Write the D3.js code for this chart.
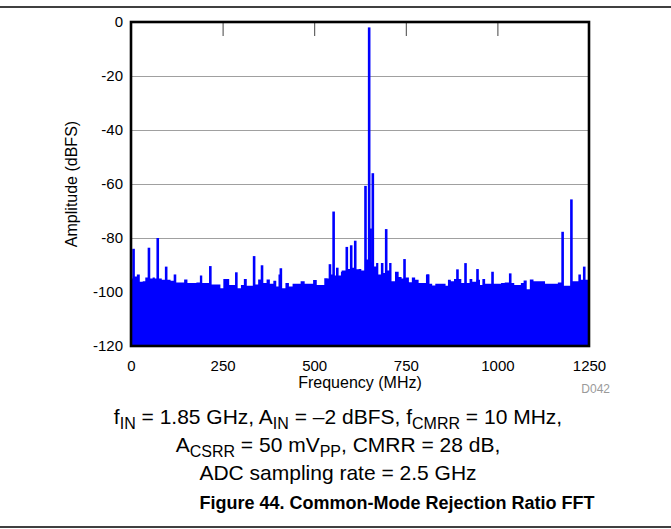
<!DOCTYPE html>
<html>
<head>
<meta charset="utf-8">
<script src="https://cdn.jsdelivr.net/npm/d3@7"></script>
<style>
  html, body { margin: 0; padding: 0; background: #fff; }
  svg { display: block; font-family: "Liberation Sans", Arial, sans-serif; }
</style>
</head>
<body>
<svg id="chart" width="671" height="529"></svg>
<script>
// ---- data ----
const xTicks = [0, 250, 500, 750, 1000, 1250];
const yTicks = [0, -20, -40, -60, -80, -100, -120];
const gridValues = [-20, -40, -60, -80, -100];
const topTickValues = [250, 500, 750, 1000];

// noise-floor envelope (MHz, dBFS)
const noiseFreq = [0,5,12,20,28,36,42,56,62,68,80,88,104,112,128,140,150,158,172,185,191,198,208,225,240,248,256,264,272,280,296,304,312,320,328,344,350,366,374,384,393,400,405,417,426,436,446,458,468,480,492,502,512,522,533,540,548,558,568,582,595,606,618,625,632,645,656,666,672,678,686,692,702,707,715,726,735,742,755,762,771,780,790,800,810,818,826,835,845,855,862,868,878,885,898,905,920,928,935,950,955,963,970,980,995,1005,1015,1025,1042,1050,1060,1068,1075,1085,1092,1105,1115,1125,1135,1145,1160,1170,1185,1195,1210,1218,1224,1232,1242,1250];
const noiseLevel = [-94,-95,-94.3,-93.5,-96.2,-96,-94.6,-95,-94.6,-95,-95,-95.5,-95.5,-95.8,-96.5,-96.5,-95.4,-96.7,-96.7,-96.5,-93.9,-96.7,-96.7,-97.2,-97.2,-98.6,-95.2,-95.2,-97.4,-97.4,-98.6,-97.4,-95.2,-97.7,-97.7,-97.2,-95.4,-96.7,-95.4,-96.9,-95.8,-98,-93.5,-98.6,-96.7,-98,-96.9,-96.9,-96,-96.9,-96.9,-95.6,-97.4,-97.4,-94.9,-95,-93.5,-93.9,-93.9,-92,-91.5,-91,-91.6,-91.5,-92,-88,-89,-90.6,-89.3,-93.5,-89.3,-93,-92,-89.3,-96,-92.5,-94.4,-95,-94.6,-96.4,-94.6,-95.5,-96.7,-96.7,-93.5,-96.9,-97.6,-96.9,-96.9,-96.9,-97.7,-95.5,-96,-95.2,-95.2,-96.7,-96.7,-95.2,-96.2,-95.5,-97.4,-95.2,-96.9,-96.9,-96.9,-96.9,-96.7,-96.5,-96.7,-97.4,-97.4,-96.7,-95.7,-99,-95.4,-96,-96,-96,-96.9,-96.9,-96.9,-96.5,-97.7,-97.7,-96,-96,-93.5,-95.5,-95.5,-95.5];

// discrete spurs / tones (MHz, dBFS)
const spurFreq  = [7,49,73,96,120,216.5,287.5,336,357.6,409,543,553,563,576.5,589,601,612,640,650,654,660,696.5,746.5,810.6,891,913,945.7,986.7,1035,1178,1202,1237];
const spurLevel = [-84,-83.6,-80,-90.6,-93.5,-90.4,-92.7,-86.7,-90.1,-91.2,-89.7,-70.2,-91,-92.5,-83.3,-82.7,-81,-60.7,-2,-76.5,-56,-76.7,-87.8,-93.5,-91.6,-89.3,-91.5,-92.5,-93.1,-77.7,-65.7,-90.6];

// ---- layout ----
const svg = d3.select("#chart");
const W = 671, H = 529;
const plot = { left: 131, right: 589, top: 22, bottom: 346 };
const FONT = "Liberation Sans, Arial, sans-serif";

const x = d3.scaleLinear().domain([0, 1250]).range([plot.left, plot.right]);
const y = d3.scaleLinear().domain([-120, 0]).range([plot.bottom, plot.top]);

svg.append("rect").attr("width", W).attr("height", H).attr("fill", "#fff");

// page rules
svg.append("line").attr("x1", 0).attr("x2", W).attr("y1", 7).attr("y2", 7)
  .attr("stroke", "#000").attr("stroke-width", 1.5);
svg.append("line").attr("x1", 0).attr("x2", W).attr("y1", 527).attr("y2", 527)
  .attr("stroke", "#000").attr("stroke-width", 1.5);

// gridlines
svg.append("g")
  .attr("transform", `translate(${plot.left},0)`)
  .call(d3.axisLeft(y).tickValues(gridValues).tickSize(-(plot.right - plot.left)).tickFormat(""))
  .call(g => g.select(".domain").remove())
  .call(g => g.selectAll("line").attr("stroke", "#a0a0a0").attr("stroke-width", 1));

// data
const clipId = "plotclip";
svg.append("clipPath").attr("id", clipId).append("rect")
  .attr("x", plot.left).attr("y", plot.top)
  .attr("width", plot.right - plot.left).attr("height", plot.bottom - plot.top);

const dataG = svg.append("g").attr("clip-path", `url(#${clipId})`);
const noise = noiseFreq.map((f, i) => ({ f, v: noiseLevel[i] }));
const area = d3.area()
  .x(d => x(d.f))
  .y0(y(-120))
  .y1(d => y(d.v))
  .curve(d3.curveStep);
dataG.append("path").datum(noise).attr("d", area).attr("fill", "#0000ff");

const spurs = spurFreq.map((f, i) => ({ f, v: spurLevel[i] }));
dataG.selectAll("rect.spur").data(spurs).join("rect")
  .attr("class", "spur")
  .attr("x", d => x(d.f) - 1.3)
  .attr("width", 2.6)
  .attr("y", d => y(d.v))
  .attr("height", d => y(-120) - y(d.v))
  .attr("fill", "#0000ff");

// top inner ticks
svg.append("g")
  .attr("transform", `translate(0,${plot.top})`)
  .call(d3.axisBottom(x).tickValues(topTickValues).tickSize(14).tickFormat(""))
  .call(g => g.select(".domain").remove())
  .call(g => g.selectAll("line").attr("stroke", "#444").attr("stroke-width", 1));

// frame
svg.append("rect")
  .attr("x", plot.left).attr("y", plot.top)
  .attr("width", plot.right - plot.left).attr("height", plot.bottom - plot.top)
  .attr("fill", "none").attr("stroke", "#000").attr("stroke-width", 2.6);

// y tick labels (plain hyphen minus as in the reference)
svg.append("g")
  .attr("transform", `translate(${plot.left},0)`)
  .call(d3.axisLeft(y).tickValues(yTicks).tickSize(0).tickPadding(8).tickFormat(d => String(d)))
  .call(g => g.select(".domain").remove())
  .call(g => g.selectAll("text").attr("font-size", 15).attr("font-family", FONT).attr("fill", "#000"));

// x tick labels
svg.append("g")
  .attr("transform", `translate(0,${plot.bottom})`)
  .call(d3.axisBottom(x).tickValues(xTicks).tickSize(0).tickPadding(14).tickFormat(d => String(d)))
  .call(g => g.select(".domain").remove())
  .call(g => g.selectAll("text").attr("font-size", 15).attr("font-family", FONT).attr("fill", "#000"));

// axis titles
svg.append("text")
  .attr("transform", `translate(77,${(plot.top + plot.bottom) / 2}) rotate(-90)`)
  .attr("text-anchor", "middle").attr("font-size", 16).text("Amplitude (dBFS)");
svg.append("text")
  .attr("x", (plot.left + plot.right) / 2).attr("y", 388)
  .attr("text-anchor", "middle").attr("font-size", 16).text("Frequency (MHz)");
svg.append("text")
  .attr("x", 610).attr("y", 393)
  .attr("text-anchor", "end").attr("font-size", 12).attr("fill", "#9a9a9a").text("D042");

// caption with subscripts
function captionLine(yPos, parts) {
  const t = svg.append("text").attr("x", 338).attr("y", yPos)
    .attr("text-anchor", "middle").attr("font-size", 21);
  let shifted = false;
  parts.forEach(p => {
    const ts = t.append("tspan").text(p.t);
    if (p.sub && !shifted) { ts.attr("dy", 5).attr("font-size", 16); shifted = true; }
    else if (p.sub) { ts.attr("font-size", 16); }
    else if (!p.sub && shifted) { ts.attr("dy", -5); shifted = false; }
  });
}
captionLine(424, [
  { t: "f" }, { t: "IN", sub: true }, { t: " = 1.85 GHz, A" }, { t: "IN", sub: true },
  { t: " = \u20132 dBFS, f" }, { t: "CMRR", sub: true }, { t: " = 10 MHz," }
]);
captionLine(452, [
  { t: "A" }, { t: "CSRR", sub: true }, { t: " = 50 mV" }, { t: "PP", sub: true },
  { t: ", CMRR = 28 dB," }
]);
captionLine(480, [{ t: "ADC sampling rate = 2.5 GHz" }]);

svg.append("text")
  .attr("x", 397).attr("y", 509)
  .attr("text-anchor", "middle").attr("font-size", 18).attr("font-weight", "bold")
  .text("Figure 44. Common-Mode Rejection Ratio FFT");
</script>
</body>
</html>
